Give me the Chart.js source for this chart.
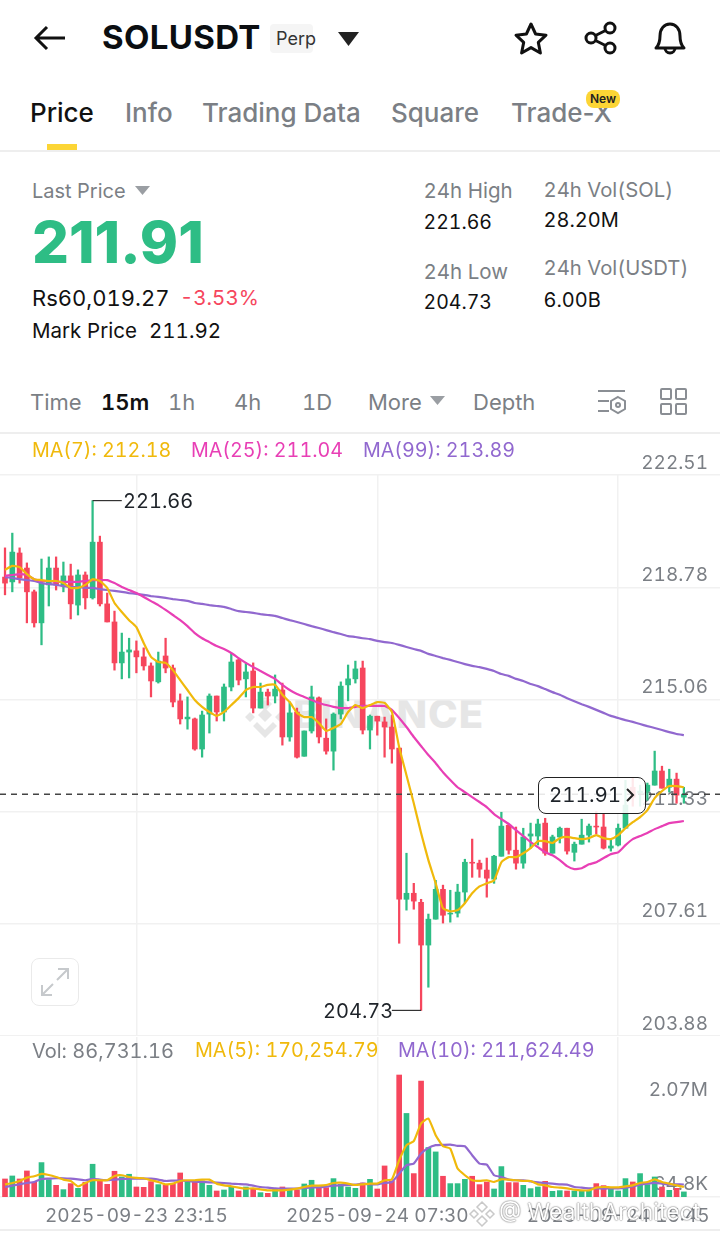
<!DOCTYPE html>
<html><head><meta charset="utf-8">
<script src="https://cdn.jsdelivr.net/npm/chart.js@4"></script>
<style>
html,body{margin:0;padding:0;background:#fff;}
body{position:relative;width:720px;height:1238px;overflow:hidden;font-family:Inter,"Noto Sans",sans-serif;color:#1e2329;font-variant-numeric:tabular-nums;}
.t{position:absolute;white-space:nowrap;transform:translateY(-50%);line-height:1.2;}
.g{color:#7b7f85}
.n{font-variant-numeric:normal}
.hr{position:absolute;left:0;width:720px;height:1.5px;background:#eeeeee}
canvas{position:absolute;left:0}
svg{position:absolute;overflow:visible}
</style></head><body>
<script>
const priceTicks=[222.51,218.78,215.06,211.33,207.61,203.88];
const timeTickIndex=[18,51,84];
const timeTickLabels=['2025-09-23 23:15','2025-09-24 07:30','2025-09-24 15:45'];
const volTicks=[2070000,64800];
const volTickLabels=[['','2.07M'],['64.8K','']];
const lastPrice=211.91;
const highMark=221.66, lowMark=204.73;
const opens=[219.12,218.96,219.92,219.42,218.63,217.60,218.86,219.42,218.86,219.16,
218.19,219.19,218.43,220.28,218.23,217.63,216.27,216.63,216.67,216.47,
216.17,215.64,216.50,216.10,215.01,214.41,214.41,213.41,214.57,215.17,
214.64,215.47,216.37,215.74,216.00,214.77,215.30,215.17,215.37,213.81,
214.64,213.17,214.01,215.11,213.77,213.34,214.57,215.54,215.74,216.10,
214.04,214.50,214.31,214.14,213.44,208.42,208.62,208.32,206.90,207.76,
208.75,207.93,207.96,208.66,209.65,209.62,209.39,209.09,209.85,210.88,
210.05,209.62,210.52,210.52,210.95,209.95,210.49,210.78,209.98,210.25,
210.55,210.85,210.82,210.12,210.22,210.78,212.14,211.95,212.01,212.21,
212.68,212.14,212.41,211.81];
const closes=[218.92,219.95,219.09,218.63,217.60,218.92,219.42,218.86,219.16,218.23,
219.19,218.43,220.28,218.23,217.63,216.27,216.63,216.70,216.47,216.17,
215.67,216.33,216.10,214.97,214.41,214.47,213.41,214.54,215.17,214.64,
215.47,216.30,215.70,215.97,214.77,215.30,215.17,215.40,213.81,214.61,
213.14,214.01,215.14,213.81,213.34,214.57,215.50,215.74,216.07,214.04,
214.50,214.34,214.14,213.41,208.42,208.62,208.36,206.90,207.76,208.75,
207.89,207.96,208.66,209.65,209.62,209.42,209.12,209.85,210.85,210.05,
209.62,210.49,210.59,210.92,209.95,210.49,210.78,210.02,210.25,210.55,
210.85,210.82,210.12,210.19,210.78,211.55,211.81,212.01,212.21,212.68,
212.11,212.41,211.88,211.91];
const highs=[220.09,220.58,220.09,219.59,218.69,219.72,219.79,219.79,219.62,219.55,
219.36,219.29,221.66,220.48,218.59,217.99,217.26,217.09,217.00,216.77,
216.27,216.63,217.09,216.20,215.24,215.14,214.44,214.67,215.24,215.17,
215.57,216.60,216.40,216.27,216.27,215.60,215.40,215.87,215.60,214.97,
214.77,214.01,215.50,215.14,214.41,214.61,215.64,216.20,216.33,216.33,
214.54,214.50,214.47,214.54,213.44,209.95,208.95,208.42,207.93,209.05,
208.89,208.72,208.92,209.75,210.42,209.72,209.79,209.88,211.31,210.92,
210.82,210.78,210.95,211.08,211.11,210.55,210.82,210.78,210.32,211.08,
210.92,211.34,211.24,210.42,210.92,212.37,212.47,212.21,212.28,213.34,
212.84,212.74,212.61,212.14];
const lows=[218.53,218.63,218.92,217.60,217.46,216.87,218.16,218.69,218.63,217.73,
217.86,218.06,218.39,218.16,217.63,216.03,215.74,215.77,215.94,216.03,
215.14,215.60,215.94,214.81,214.24,214.07,213.37,213.14,213.94,214.34,
214.34,215.34,215.54,215.14,214.61,214.77,214.87,214.94,213.54,213.67,
213.11,213.17,213.94,213.61,213.24,212.71,214.41,215.01,215.60,213.91,
213.41,213.87,213.14,212.94,206.96,208.06,208.09,204.73,205.50,207.76,
207.63,207.66,207.83,208.29,209.15,209.15,208.49,208.95,209.85,209.92,
209.42,209.45,210.12,210.22,209.88,209.95,210.29,209.92,209.69,210.25,
210.32,210.59,210.09,210.02,210.19,210.78,211.51,211.51,211.71,212.21,
212.11,211.98,211.61,211.61];
const ma7=[219.36,219.49,219.45,219.22,219.05,219.02,218.99,218.99,218.92,218.76,
218.76,218.86,219.05,218.99,218.76,218.26,217.96,217.69,217.46,216.93,
216.47,216.30,216.27,216.03,215.70,215.37,215.04,214.81,214.64,214.51,
214.64,214.87,215.10,215.37,215.47,215.47,215.54,215.54,215.21,214.97,
214.61,214.47,214.47,214.27,214.01,214.11,214.24,214.64,214.87,214.77,
214.87,214.97,214.94,214.64,213.47,212.54,211.61,210.62,209.72,208.95,
208.12,208.02,208.06,208.29,208.62,208.85,208.95,209.05,209.65,209.82,
209.82,209.95,210.12,210.35,210.35,210.29,210.45,210.49,210.45,210.42,
210.45,210.55,210.45,210.42,210.55,210.78,210.98,211.15,211.38,211.78,
212.01,212.18,212.18,212.14];
const ma25=[219.16,219.19,219.22,219.19,219.05,218.99,218.99,218.96,218.96,218.96,
218.96,218.99,219.02,219.02,219.02,218.92,218.79,218.69,218.59,218.46,
218.32,218.19,218.03,217.86,217.69,217.49,217.26,217.09,216.96,216.83,
216.73,216.60,216.43,216.27,216.13,216.00,215.87,215.74,215.54,215.37,
215.24,215.14,215.04,214.94,214.87,214.81,214.77,214.77,214.81,214.84,
214.84,214.84,214.84,214.71,214.44,214.14,213.81,213.51,213.21,212.94,
212.64,212.38,212.14,211.98,211.81,211.65,211.48,211.25,211.08,210.92,
210.72,210.52,210.32,210.15,209.98,209.88,209.72,209.52,209.42,209.45,
209.58,209.65,209.79,209.92,209.98,210.22,210.42,210.52,210.62,210.75,
210.85,210.95,210.98,211.02];
const ma99=[219.12,219.09,219.05,219.02,218.99,218.92,218.89,218.86,218.82,218.79,
218.79,218.76,218.76,218.72,218.69,218.66,218.63,218.59,218.56,218.53,
218.49,218.46,218.43,218.39,218.36,218.33,218.26,218.23,218.19,218.16,
218.13,218.06,217.99,217.96,217.93,217.89,217.86,217.83,217.76,217.69,
217.63,217.56,217.49,217.43,217.36,217.29,217.23,217.16,217.13,217.09,
217.06,217.00,216.96,216.93,216.87,216.80,216.73,216.67,216.57,216.50,
216.43,216.37,216.30,216.23,216.17,216.13,216.07,216.00,215.90,215.84,
215.74,215.67,215.57,215.50,215.40,215.30,215.21,215.10,215.00,214.90,
214.81,214.71,214.61,214.51,214.44,214.37,214.31,214.24,214.17,214.11,
214.04,213.97,213.91,213.87];
const volumes=[306,357,306,442,249,584,295,198,125,227,147,249,556,284,215,437,340,386,170,164,
261,210,198,227,408,272,255,272,198,102,119,181,102,170,142,74,62,142,170,113,
113,221,284,153,159,312,215,170,147,238,300,136,527,272,2070,1418,397,1967,839,765,
352,227,227,300,352,210,255,136,516,244,244,198,142,170,266,96,108,102,102,113,
113,227,193,130,102,312,255,397,210,340,170,113,147,86.73];
const volMa5=[215,238,272,329,352,391,374,340,295,272,181,238,284,284,284,357,369,340,323,318,
284,255,215,227,272,284,284,295,295,227,198,181,159,142,147,130,113,113,113,125,
142,170,193,193,204,238,244,227,204,215,227,227,284,300,624,879,947,1247,1332,1049,
862,822,482,369,284,272,284,255,300,295,284,272,272,215,198,170,159,147,125,113,
113,159,170,164,164,181,198,238,255,300,255,227,198,170];
const volMa10=[170,193,215,238,255,306,312,318,318,312,300,284,306,295,284,295,306,312,312,312,
312,295,272,278,284,272,261,255,249,244,238,227,221,215,193,170,159,147,142,142,
142,153,164,164,176,193,198,204,210,227,215,215,238,255,397,539,567,737,833,879,
885,890,868,862,709,567,550,369,340,295,284,284,266,249,238,227,215,210,170,159,
147,147,142,147,147,159,181,210,227,238,227,215,215,212];

const GREEN='#2ebd85',RED='#f6465d',YEL='#f0b90b',PINK='#e83fb5',PUR='#9168cf',GRID='#f1f1f1',TICK='#7b7f85';
const idx=opens.map((_,i)=>i);
const xMin=-0.685,xMax=97.95;
const dirColor=i=>closes[i]>=opens[i]?GREEN:RED;
const colors=idx.map(dirColor);
const pts=a=>a.map((y,x)=>({x,y}));
const line=(data,color,order)=>({type:'line',data,borderColor:color,borderWidth:2.2,pointRadius:0,tension:.15,order});
function noPad(s){s.paddingTop=s.paddingBottom=s.paddingLeft=s.paddingRight=0;}
function xScale(showLabels){return {type:'linear',min:xMin,max:xMax,position:'bottom',offset:false,
  afterBuildTicks(s){s.ticks=timeTickIndex.map(value=>({value}));},
  afterFit(s){s.height=showLabels?33:0;noPad(s);},
  grid:{color:GRID,lineWidth:1.5,drawTicks:false,offset:false},
  border:{display:!!showLabels,color:GRID,width:1.5},
  ticks:{display:!!showLabels,autoSkip:false,maxRotation:0,minRotation:0,padding:8,color:TICK,font:{family:'Inter',size:19},
    callback:v=>timeTickLabels[timeTickIndex.indexOf(v)]||''}};}
function addCanvas(top,h){const c=document.createElement('canvas');c.style.width='720px';c.style.height=h+'px';c.width=720;c.height=h;
  const d=document.createElement('div');d.style.cssText='position:absolute;left:0;width:720px;top:'+top+'px;height:'+h+'px';d.appendChild(c);document.body.appendChild(d);c.style.position='static';return c;}
</script>

<!-- watermark below the plot -->
<div class="t n" style="left:293px;top:714px;font-size:40px;font-weight:800;color:#e6e6e6;letter-spacing:1px">BINANCE</div>
<svg style="left:240px;top:691px" width="50" height="48" viewBox="0 0 50 48"><g fill="#e6e6e6"><path d="M25 6l7 7-7 7-7-7z"/><path d="M10 21l5 5-5 5-5-5zM40 21l5 5-5 5-5-5z"/><path d="M25 47L13 35l4-4 8 8 8-8 4 4z"/><path d="M25 17l7 7-7 7-7-7z"/></g></svg>

<script>
const pc=addCanvas(455,581);
new Chart(pc,{type:'bar',data:{datasets:[
 line(pts(ma7),YEL,1),line(pts(ma25),PINK,2),line(pts(ma99),PUR,3),
 {type:'line',data:[{x:xMin,y:lastPrice},{x:xMax,y:lastPrice}],borderColor:'#444',borderWidth:1.5,borderDash:[6,5],pointRadius:0,order:4},
 {type:'line',data:[{x:12,y:highMark},{x:16,y:highMark}],borderColor:'#333',borderWidth:1.2,pointRadius:0,order:4},
 {type:'line',data:[{x:57,y:lowMark},{x:53,y:lowMark}],borderColor:'#333',borderWidth:1.2,pointRadius:0,order:4},
 {data:idx.map(i=>({x:i,y:[opens[i],closes[i]]})),backgroundColor:colors,barThickness:5,grouped:false,borderWidth:0,borderSkipped:false,order:5},
 {data:idx.map(i=>({x:i,y:[lows[i],highs[i]]})),backgroundColor:colors,barThickness:1.6,grouped:false,borderWidth:0,borderSkipped:false,order:6}
]},options:{responsive:false,animation:false,devicePixelRatio:1,layout:{padding:{top:20},autoPadding:false},
 plugins:{legend:{display:false},tooltip:{enabled:false}},
 scales:{x:xScale(false),
  y:{position:'right',min:203.88,max:222.51,afterFit(s){s.width=0;noPad(s);},
   afterBuildTicks(s){s.ticks=priceTicks.map(value=>({value}));},
   grid:{color:GRID,lineWidth:1.5,drawTicks:false},border:{display:false},
   ticks:{mirror:true,padding:-12,labelOffset:-12,color:TICK,font:{family:'Inter',size:19},callback:v=>v.toFixed(2)}}}}});

const vc=addCanvas(1037,193);
new Chart(vc,{type:'bar',data:{datasets:[
 line(pts(volMa5.map(v=>v*1000)),YEL,1),line(pts(volMa10.map(v=>v*1000)),PUR,2),
 {data:idx.map(i=>({x:i,y:volumes[i]*1000})),backgroundColor:colors,barThickness:5,grouped:false,borderWidth:0,order:5}
]},options:{responsive:false,animation:false,devicePixelRatio:1,layout:{padding:0,autoPadding:false},
 plugins:{legend:{display:false},tooltip:{enabled:false}},
 scales:{x:xScale(true),
  y:{position:'right',min:0,max:2715000,afterFit(s){s.width=0;noPad(s);},
   afterBuildTicks(s){s.ticks=volTicks.map(value=>({value}));},
   grid:{display:false},border:{display:false},
   ticks:{mirror:true,padding:-12,labelOffset:3,color:TICK,font:{family:'Inter',size:19,lineHeight:1.26},
     callback:v=>volTickLabels[volTicks.indexOf(v)]}}}}});
</script>

<!-- header -->
<svg style="left:34px;top:25px" width="32" height="26" viewBox="0 0 32 26" fill="none" stroke="#111" stroke-width="3"><path d="M31 13H2M13 2L2 13l11 11"/></svg>
<div class="t" style="left:102px;top:38px;font-size:33px;font-weight:700;color:#0b0e11;letter-spacing:.35px">SOLUSDT</div>
<div style="position:absolute;left:270px;top:24px;width:43px;height:29px;background:#f5f5f5;border-radius:4px"></div>
<div class="t" style="left:276px;top:39px;font-size:18px;color:#333">Perp</div>
<svg style="left:338px;top:32px" width="21" height="14"><path d="M0 0h21L10.5 14z" fill="#222"/></svg>
<svg style="left:514px;top:22px" width="34" height="32" viewBox="0 0 34 32" fill="none" stroke="#111" stroke-width="3" stroke-linejoin="round"><path d="M17 2l4.6 10 10.4 1.2-7.7 7.2 2.1 10.6L17 25.6 7.6 31l2.1-10.6L2 13.2 12.4 12z"/></svg>
<svg style="left:584px;top:22px" width="34" height="32" viewBox="0 0 34 32" fill="none" stroke="#111" stroke-width="3"><circle cx="7" cy="16" r="5"/><circle cx="26" cy="6" r="5"/><circle cx="26" cy="26" r="5"/><path d="M11.5 13.5l10-5M11.5 18.5l10 5"/></svg>
<svg style="left:654px;top:20px" width="32" height="36" viewBox="0 0 32 36" fill="none" stroke="#111" stroke-width="3" stroke-linejoin="round"><path d="M2 28c3-3 4-6 4-12 0-7 4-12 10-12s10 5 10 12c0 6 1 9 4 12z"/><path d="M11 28a5 5 0 0 0 10 0"/></svg>

<!-- tabs -->
<div class="t n" style="left:30px;top:113px;font-size:26px;font-weight:500;color:#111">Price</div>
<div class="t g n" style="left:125px;top:113px;font-size:26px;font-weight:500">Info</div>
<div class="t g n" style="left:202px;top:113px;font-size:26px;font-weight:500">Trading Data</div>
<div class="t g n" style="left:391px;top:113px;font-size:26px;font-weight:500">Square</div>
<div class="t g n" style="left:511px;top:113px;font-size:26px;font-weight:500">Trade-X</div>
<div style="position:absolute;left:586px;top:90px;width:34px;height:18px;background:#fcd535;border-radius:8px"></div>
<div class="t" style="left:590px;top:99px;font-size:12px;font-weight:600;color:#222">New</div>
<div style="position:absolute;left:47px;top:144px;width:30px;height:6px;background:#fcd535"></div>
<div class="hr" style="top:150px"></div>

<!-- stats -->
<div class="t g" style="left:32px;top:191px;font-size:20px">Last Price</div>
<svg style="left:135px;top:186px" width="15" height="9"><path d="M0 0h15L7.5 9z" fill="#9a9ea3"/></svg>
<div class="t n" style="left:32px;top:243px;font-size:58px;font-weight:800;color:#2ebd85">211.91</div>
<div class="t" style="left:32px;top:298px;font-size:22px;color:#111">Rs60,019.27</div>
<div class="t" style="left:180px;top:298px;font-size:20.5px;color:#f6465d">-3.53%</div>
<div class="t n" style="left:32px;top:331px;font-size:20.5px;color:#111">Mark Price</div>
<div class="t" style="left:149px;top:331px;font-size:20.5px;color:#111">211.92</div>
<div class="t g" style="left:423.5px;top:191px;font-size:20.5px">24h High</div>
<div class="t" style="left:423.5px;top:223px;font-size:19.5px;color:#111">221.66</div>
<div class="t g" style="left:423.5px;top:272px;font-size:20.5px">24h Low</div>
<div class="t" style="left:423.5px;top:303px;font-size:19.5px;color:#111">204.73</div>
<div class="t g" style="left:543.5px;top:190px;font-size:20.3px">24h Vol(SOL)</div>
<div class="t" style="left:543.5px;top:220px;font-size:20px;color:#111">28.20M</div>
<div class="t g" style="left:543.5px;top:268px;font-size:20.3px">24h Vol(USDT)</div>
<div class="t" style="left:543.5px;top:300px;font-size:20px;color:#111">6.00B</div>

<!-- intervals -->
<div class="t g" style="left:30px;top:402px;font-size:22px">Time</div>
<div class="t" style="left:101px;top:402px;font-size:22px;font-weight:600;color:#111">15m</div>
<div class="t g" style="left:168px;top:402px;font-size:22px">1h</div>
<div class="t g" style="left:234px;top:402px;font-size:22px">4h</div>
<div class="t g" style="left:302px;top:402px;font-size:22px">1D</div>
<div class="t g" style="left:368px;top:402px;font-size:22px">More</div>
<svg style="left:430px;top:396px" width="15" height="9"><path d="M0 0h15L7.5 9z" fill="#9a9ea3"/></svg>
<div class="t g" style="left:473px;top:402px;font-size:22px">Depth</div>
<svg style="left:597px;top:388px" width="30" height="28" fill="none" stroke="#8a8e94" stroke-width="2"><path d="M1 3h27M1 13h11M1 23h11"/><path d="M21 9l7 4v8l-7 4-7-4v-8z"/><circle cx="21" cy="17" r="2"/></svg>
<svg style="left:660px;top:388px" width="28" height="28" fill="none" stroke="#8a8e94" stroke-width="2"><rect x="1" y="1" width="10" height="10" rx="1"/><rect x="16" y="1" width="10" height="10" rx="1"/><rect x="1" y="16" width="10" height="10" rx="1"/><rect x="16" y="16" width="10" height="10" rx="1"/></svg>
<div class="hr" style="top:432px"></div>

<!-- MA legend -->
<div class="t" style="left:32px;top:451px;font-size:19.7px;color:#f0b90b">MA(7): 212.18</div>
<div class="t" style="left:191px;top:451px;font-size:19.7px;color:#e83fb5">MA(25): 211.04</div>
<div class="t" style="left:363px;top:451px;font-size:19.7px;color:#9168cf">MA(99): 213.89</div>

<!-- extreme labels -->
<div class="t" style="left:123px;top:501px;font-size:20px;color:#1e2329">221.66</div>
<div class="t" style="left:323px;top:1011px;font-size:20px;color:#1e2329">204.73</div>

<!-- price tag -->
<div style="position:absolute;left:538px;top:777px;width:106px;height:35px;border:1.5px solid #222;border-radius:8px;background:rgba(255,255,255,.88)"></div>
<div class="t" style="left:549px;top:795px;font-size:20.5px;color:#1e2329">211.91</div>
<svg style="left:626px;top:788px" width="9" height="14" fill="none" stroke="#222" stroke-width="2"><path d="M1 1l6 6-6 6"/></svg>

<!-- expand -->
<div style="position:absolute;left:31px;top:958px;width:46px;height:46px;border:1.5px solid #eaeaea;border-radius:8px;background:#fff"></div>
<svg style="left:41px;top:968px" width="28" height="28" fill="none" stroke="#c6c9cc" stroke-width="2"><path d="M17 1h10v10M27 1L16 12M11 27H1V17M1 27l11-11"/></svg>

<!-- volume legend -->
<div class="t g" style="left:32px;top:1051px;font-size:20px">Vol: 86,731.16</div>
<div class="t" style="left:195px;top:1051px;font-size:19.8px;color:#f0b90b">MA(5): 170,254.79</div>
<div class="t" style="left:398px;top:1051px;font-size:19.8px;color:#9168cf">MA(10): 211,624.49</div>
<div class="hr" style="top:1229px"></div>

<!-- image watermark -->
<svg style="left:469px;top:1201px" width="26" height="26" fill="none" stroke="#c9c9c9" stroke-width="1.5"><path d="M13 1l5 5-5 5-5-5zM5 9l4 4-4 4-4-4zM21 9l4 4-4 4-4-4zM13 15l5 5-5 5-5-5z" fill="#fff"/></svg>
<div class="t" style="left:499px;top:1213px;font-size:23px;color:#fff;text-shadow:0 0 1.5px #777,0 0 1.5px #777">@ WealthArchitect</div>
</body></html>
